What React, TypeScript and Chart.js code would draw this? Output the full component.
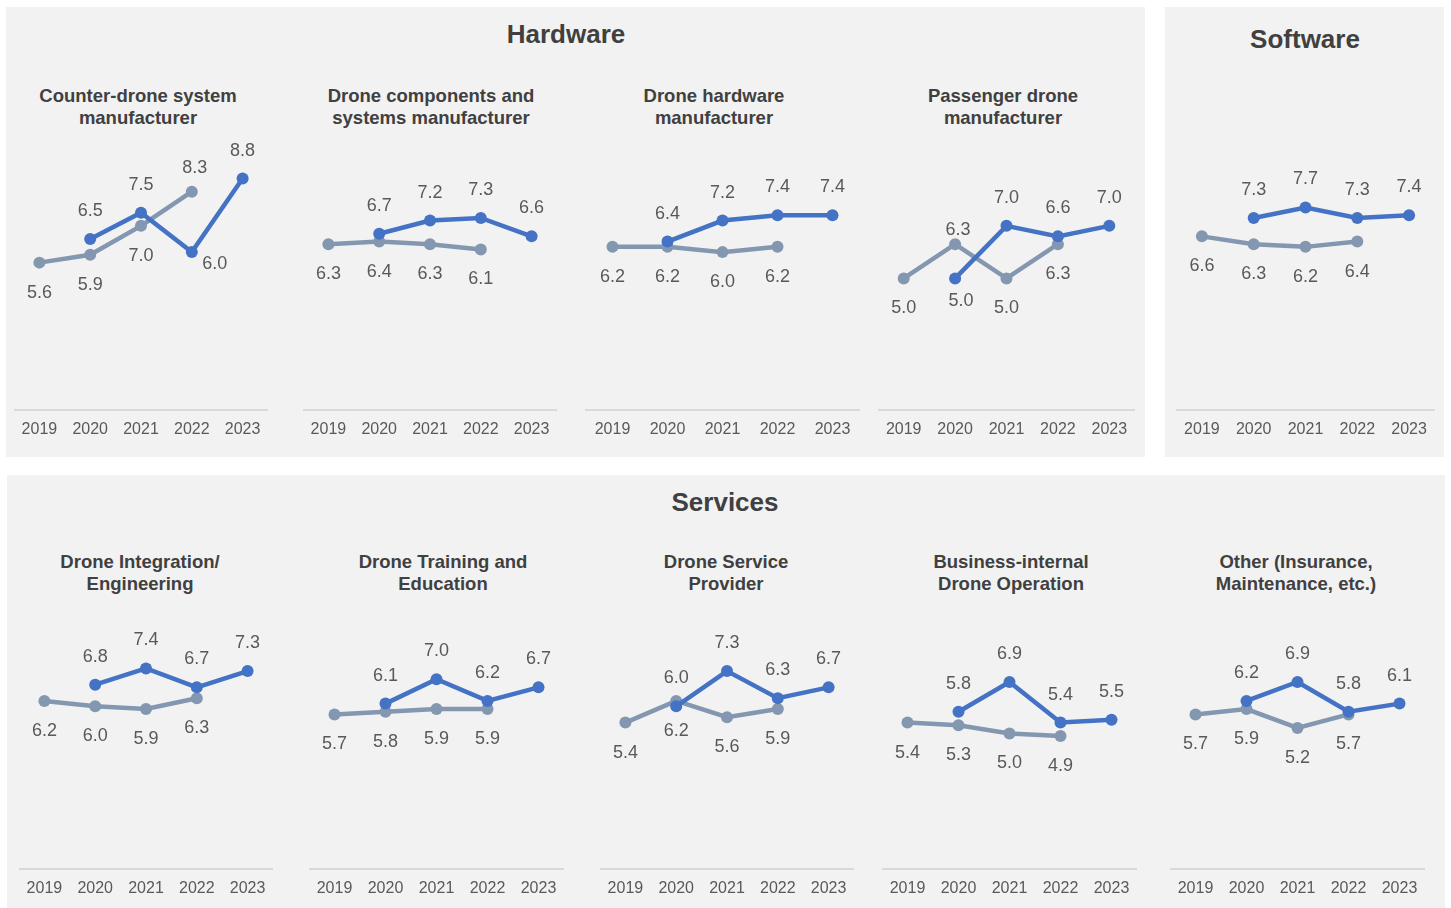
import { useEffect, useRef } from "react";
import { Chart, registerables } from "chart.js";

Chart.register(...registerables);

// Category axis
const years = ["2019", "2020", "2021", "2022", "2023"];

// Earlier survey wave (grey) and latest wave (blue), per segment
const counterDroneEarlier = [5.6, 5.9, 7.0, 8.3, null];
const counterDroneLatest = [null, 6.5, 7.5, 6.0, 8.8];

const componentsEarlier = [6.3, 6.4, 6.3, 6.1, null];
const componentsLatest = [null, 6.7, 7.2, 7.3, 6.6];

const hardwareEarlier = [6.2, 6.2, 6.0, 6.2, null];
const hardwareLatest = [null, 6.4, 7.2, 7.4, 7.4];

const passengerEarlier = [5.0, 6.3, 5.0, 6.3, null];
const passengerLatest = [null, 5.0, 7.0, 6.6, 7.0];

const softwareEarlier = [6.6, 6.3, 6.2, 6.4, null];
const softwareLatest = [null, 7.3, 7.7, 7.3, 7.4];

const integrationEarlier = [6.2, 6.0, 5.9, 6.3, null];
const integrationLatest = [null, 6.8, 7.4, 6.7, 7.3];

const trainingEarlier = [5.7, 5.8, 5.9, 5.9, null];
const trainingLatest = [null, 6.1, 7.0, 6.2, 6.7];

const serviceEarlier = [5.4, 6.2, 5.6, 5.9, null];
const serviceLatest = [null, 6.0, 7.3, 6.3, 6.7];

const businessEarlier = [5.4, 5.3, 5.0, 4.9, null];
const businessLatest = [null, 5.8, 6.9, 5.4, 5.5];

const otherEarlier = [5.7, 5.9, 5.2, 5.7, null];
const otherLatest = [null, 6.2, 6.9, 5.8, 6.1];

const Y_MIN = 0;
const Y_MAX = 10;

const FONT = "'Liberation Sans', Arial, Helvetica, sans-serif";
const BLUE = "#4472c4";
const GREY = "#8497b0";
const TEXT = "#595959";
const TITLE = "#404040";
const PANEL_BG = "#f2f2f2";

type Row = "top" | "bottom";

interface PanelDef {
  title: string[];
  earlier: (number | null)[];
  latest: (number | null)[];
  row: Row;
  left: number;
  width: number;
  titleX: number;
  // hand-placed data labels: [series, index, dx, dy]
  tweaks?: [("earlier" | "latest"), number, number, number][];
}

const panels: PanelDef[] = [
  {
    title: ["Counter-drone system", "manufacturer"],
    earlier: counterDroneEarlier,
    latest: counterDroneLatest,
    row: "top",
    left: 14,
    width: 254,
    titleX: 138,
    tweaks: [
      ["earlier", 3, 3, -24],
      ["latest", 3, 23, 12],
    ],
  },
  {
    title: ["Drone components and", "systems manufacturer"],
    earlier: componentsEarlier,
    latest: componentsLatest,
    row: "top",
    left: 303,
    width: 254,
    titleX: 431,
  },
  {
    title: ["Drone hardware", "manufacturer"],
    earlier: hardwareEarlier,
    latest: hardwareLatest,
    row: "top",
    left: 585,
    width: 275,
    titleX: 714,
  },
  {
    title: ["Passenger drone", "manufacturer"],
    earlier: passengerEarlier,
    latest: passengerLatest,
    row: "top",
    left: 878,
    width: 257,
    titleX: 1003,
    tweaks: [
      ["earlier", 1, 3, -14],
      ["latest", 1, 6, 23],
    ],
  },
  {
    title: [],
    earlier: softwareEarlier,
    latest: softwareLatest,
    row: "top",
    left: 1176,
    width: 259,
    titleX: 1305,
  },
  {
    title: ["Drone Integration/", "Engineering"],
    earlier: integrationEarlier,
    latest: integrationLatest,
    row: "bottom",
    left: 19,
    width: 254,
    titleX: 140,
  },
  {
    title: ["Drone Training and", "Education"],
    earlier: trainingEarlier,
    latest: trainingLatest,
    row: "bottom",
    left: 309,
    width: 255,
    titleX: 443,
  },
  {
    title: ["Drone Service", "Provider"],
    earlier: serviceEarlier,
    latest: serviceLatest,
    row: "bottom",
    left: 600,
    width: 254,
    titleX: 726,
  },
  {
    title: ["Business-internal", "Drone Operation"],
    earlier: businessEarlier,
    latest: businessLatest,
    row: "bottom",
    left: 882,
    width: 255,
    titleX: 1011,
  },
  {
    title: ["Other (Insurance,", "Maintenance, etc.)"],
    earlier: otherEarlier,
    latest: otherLatest,
    row: "bottom",
    left: 1170,
    width: 255,
    titleX: 1296,
  },
];

// canvas geometry per row; the plot area starts PAD_TOP below the canvas top
// and the x axis (tick + padding + label) takes the bottom ~31px
const ROWS = {
  top: { canvasTop: 107, canvasHeight: 334, titleTop: 85 },
  bottom: { canvasTop: 558, canvasHeight: 342, titleTop: 551 },
};
const PAD_TOP = 40;

function makeLabelPlugin(tweaks: PanelDef["tweaks"]) {
  return {
    id: "pointValues",
    afterDatasetsDraw(chart: Chart) {
      const ctx = chart.ctx;
      ctx.save();
      ctx.font = `18px ${FONT}`;
      ctx.fillStyle = TEXT;
      ctx.textAlign = "center";
      ctx.textBaseline = "middle";
      chart.data.datasets.forEach((ds: any, di: number) => {
        const meta = chart.getDatasetMeta(di);
        const key = ds.seriesKey as "earlier" | "latest";
        meta.data.forEach((pt: any, i: number) => {
          const v = ds.data[i];
          if (v === null || v === undefined) return;
          let dx = 0;
          let dy = key === "latest" ? -28 : 30;
          const t = (tweaks || []).find((w) => w[0] === key && w[1] === i);
          if (t) {
            dx = t[2];
            dy = t[3];
          }
          ctx.fillText((v as number).toFixed(1), pt.x + dx, pt.y + dy);
        });
      });
      ctx.restore();
    },
  };
}

function PanelChart({ def }: { def: PanelDef }) {
  const ref = useRef<HTMLCanvasElement | null>(null);
  const row = ROWS[def.row];
  const height = row.canvasHeight;

  useEffect(() => {
    if (!ref.current) return;
    const chart = new Chart(ref.current, {
      type: "line",
      data: {
        labels: years,
        datasets: [
          {
            seriesKey: "latest",
            data: def.latest,
            borderColor: BLUE,
            backgroundColor: BLUE,
            pointBackgroundColor: BLUE,
            pointBorderColor: BLUE,
            borderWidth: 4.5,
            pointRadius: 6,
            pointBorderWidth: 0,
            spanGaps: false,
            order: 0,
          } as any,
          {
            seriesKey: "earlier",
            data: def.earlier,
            borderColor: GREY,
            backgroundColor: GREY,
            pointBackgroundColor: GREY,
            pointBorderColor: GREY,
            borderWidth: 4.5,
            pointRadius: 6,
            pointBorderWidth: 0,
            spanGaps: false,
            order: 1,
          } as any,
        ],
      },
      options: {
        responsive: false,
        animation: false,
        layout: { autoPadding: false, padding: { top: PAD_TOP, left: 0, right: 0, bottom: 0 } },
        plugins: {
          legend: { display: false },
          tooltip: { enabled: false },
        },
        scales: {
          x: {
            offset: true,
            grid: {
              display: false,
              drawOnChartArea: false,
              drawTicks: true,
              tickLength: 8,
              color: "rgba(0,0,0,0)",
            },
            border: { display: true, color: "#d9d9d9", width: 2 },
            ticks: {
              color: TEXT,
              font: { family: FONT, size: 16 },
              padding: 2,
              maxRotation: 0,
              autoSkip: false,
            },
          },
          y: { display: false, min: Y_MIN, max: Y_MAX },
        },
      },
      plugins: [makeLabelPlugin(def.tweaks)],
    });
    return () => chart.destroy();
  }, [def]);

  return (
    <canvas
      ref={ref}
      width={def.width}
      height={height}
      style={{
        position: "absolute",
        left: def.left,
        top: row.canvasTop,
        width: def.width,
        height,
      }}
    />
  );
}

function SubTitle({ def }: { def: PanelDef }) {
  if (!def.title.length) return null;
  const row = ROWS[def.row];
  return (
    <div
      style={{
        position: "absolute",
        left: def.titleX - 150,
        top: row.titleTop,
        width: 300,
        textAlign: "center",
        font: `bold 18.5px ${FONT}`,
        lineHeight: "22px",
        color: TITLE,
      }}
    >
      {def.title.map((l, i) => (
        <div key={i}>{l}</div>
      ))}
    </div>
  );
}

function SectionTitle({ text, cx, cy }: { text: string; cx: number; cy: number }) {
  return (
    <div
      style={{
        position: "absolute",
        left: cx - 150,
        top: cy - 15,
        width: 300,
        height: 30,
        lineHeight: "30px",
        textAlign: "center",
        font: `bold 26px ${FONT}`,
        color: TITLE,
      }}
    >
      {text}
    </div>
  );
}

export default function App() {
  return (
    <div
      style={{
        position: "absolute",
        left: 0,
        top: 0,
        width: 1451,
        height: 908,
        background: "#ffffff",
        overflow: "hidden",
        fontFamily: FONT,
      }}
    >
      <div style={{ position: "absolute", left: 6, top: 7, width: 1139, height: 450, background: PANEL_BG }} />
      <div style={{ position: "absolute", left: 1165, top: 7, width: 279, height: 450, background: PANEL_BG }} />
      <div style={{ position: "absolute", left: 7, top: 475, width: 1438, height: 433, background: PANEL_BG }} />

      <SectionTitle text="Hardware" cx={566} cy={34} />
      <SectionTitle text="Software" cx={1305} cy={39} />
      <SectionTitle text="Services" cx={725} cy={502} />

      {panels.map((p, i) => (
        <SubTitle key={"t" + i} def={p} />
      ))}
      {panels.map((p, i) => (
        <PanelChart key={"c" + i} def={p} />
      ))}
    </div>
  );
}
